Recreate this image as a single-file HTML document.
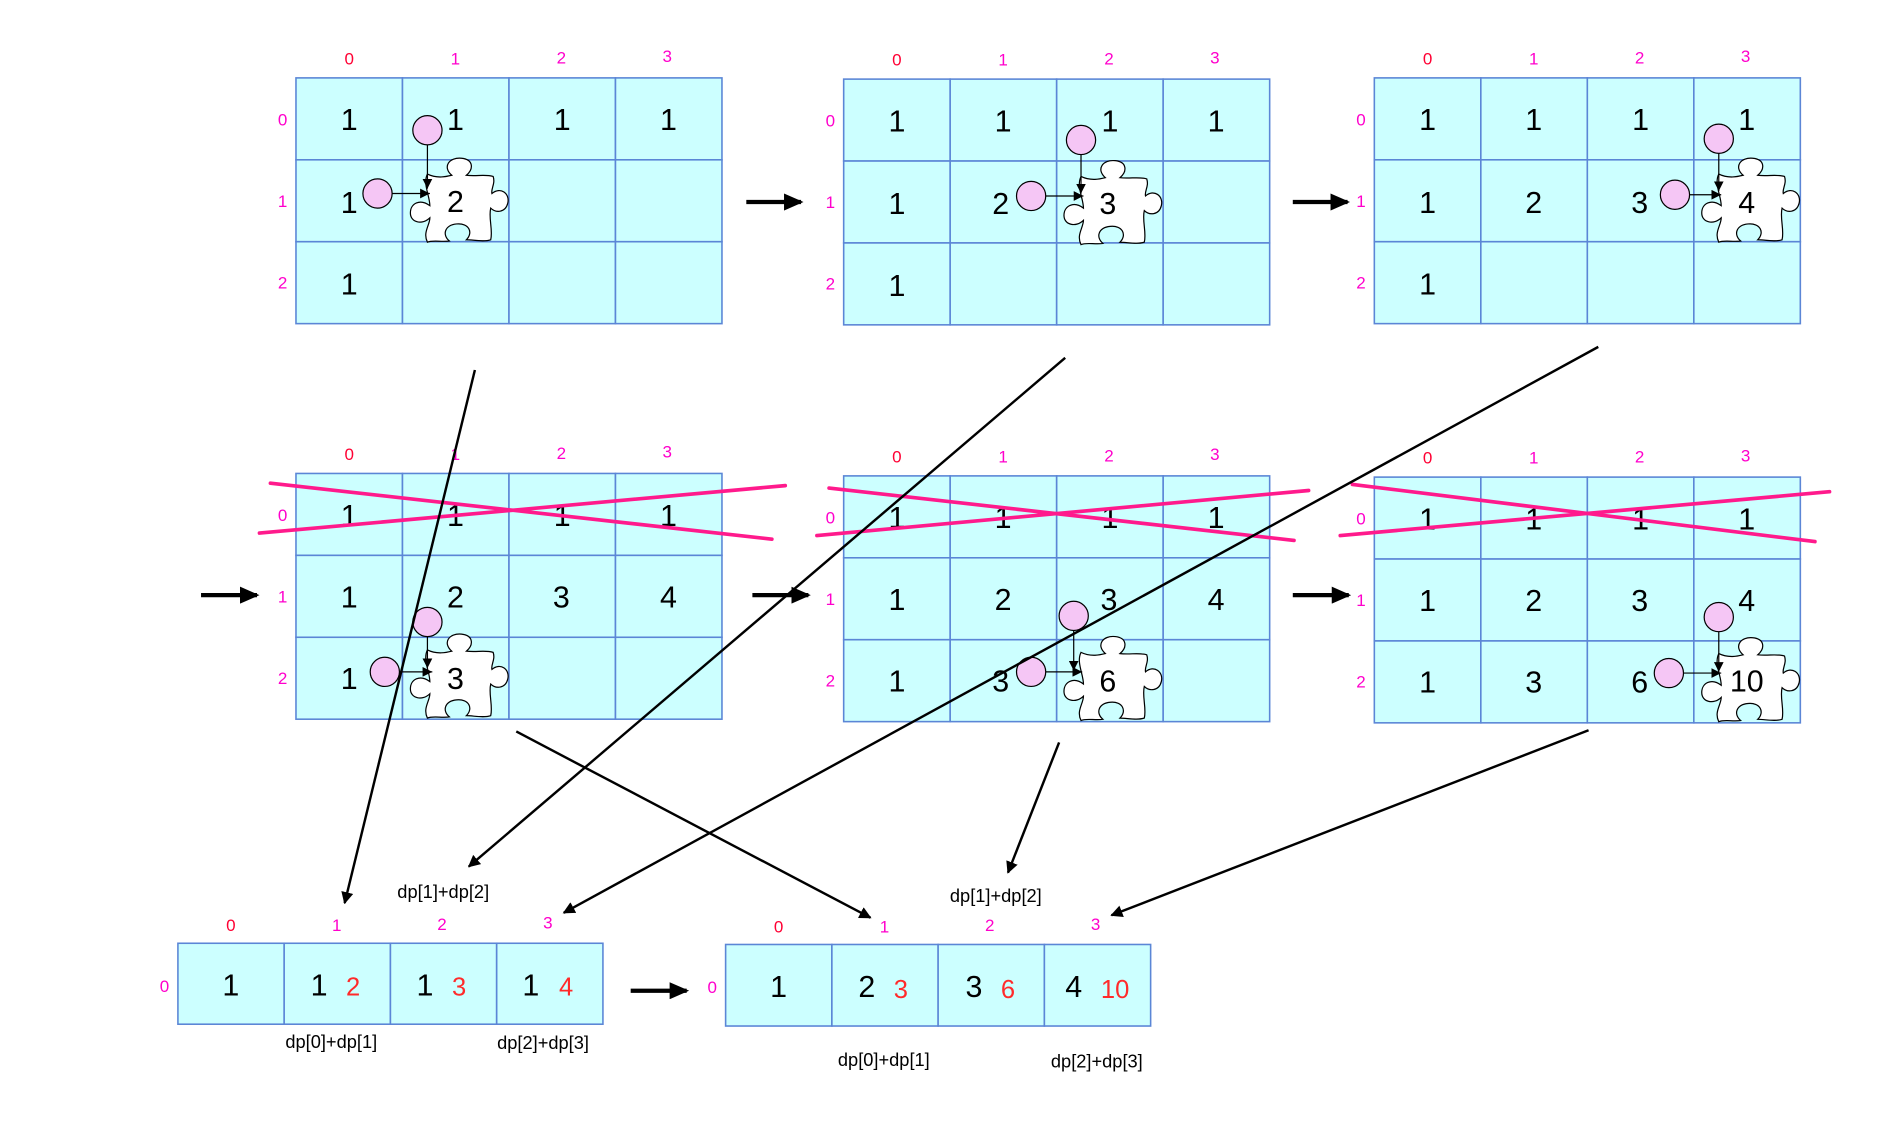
<!DOCTYPE html>
<html><head><meta charset="utf-8"><style>
html,body{margin:0;padding:0;background:#fff;}
svg{display:block;}
text{font-family:"Liberation Sans",sans-serif;}
.n{font-size:25px;fill:#000;text-anchor:middle;}
.r{font-size:25px;fill:#ff2a2a;text-anchor:middle;}
.cl{font-size:14px;fill:#ff00cc;text-anchor:middle;}
.c0{font-size:14px;fill:#ff0033;text-anchor:middle;}
.dp{font-size:15px;fill:#000;text-anchor:middle;}
.cell{fill:#ccffff;stroke:#5b86d6;stroke-width:1.3;}
.circ{fill:#f5c6f5;stroke:#000;stroke-width:1;}
.pz{fill:#fff;stroke:#000;stroke-width:1;}
.thin{stroke:#000;stroke-width:1;fill:none;}
.big{stroke:#000;stroke-width:3.5;}
.long{stroke:#000;stroke-width:2;}
.x{stroke:#ff1a8c;stroke-width:3;stroke-linecap:round;}
</style></head><body>
<svg width="1904" height="1138" viewBox="0 0 1564 935" xmlns="http://www.w3.org/2000/svg">
<defs>
<marker id="ah" markerWidth="10" markerHeight="10" refX="9" refY="5" orient="auto" markerUnits="userSpaceOnUse"><path d="M0,0 L10,5 L0,10 Z" fill="#000"/></marker>
<marker id="ahs" markerWidth="8" markerHeight="8" refX="8" refY="4" orient="auto" markerUnits="userSpaceOnUse"><path d="M0,0 L8,4 L0,8 Z" fill="#000"/></marker>
<marker id="ahb" markerWidth="16" markerHeight="14" refX="14" refY="7" orient="auto" markerUnits="userSpaceOnUse"><path d="M0,0 L16,7 L0,14 Z" fill="#000"/></marker>
<path id="puz" class="pz" d="M-26,-22 C-18,-18 -10,-20 -6,-21 C-14,-28 -8,-36 2,-35 C12,-34 12,-26 6,-21 C14,-20 22,-22 28,-20 C30,-14 26,-10 27,-6 C34,-12 42,-6 40,2 C38,10 30,10 26,6 C24,14 28,24 26,32 C20,34 12,32 6,32 C12,26 8,18 -2,19 C-12,20 -14,28 -8,33 C-14,34 -22,32 -26,34 C-30,26 -24,20 -24,14 C-30,20 -40,18 -40,10 C-40,2 -32,-2 -24,4 C-24,-4 -30,-14 -26,-22 Z"/>
<g id="grid">
<rect class="cell" x="0" y="0" width="87.5" height="67.3"/><rect class="cell" x="87.5" y="0" width="87.5" height="67.3"/><rect class="cell" x="175" y="0" width="87.5" height="67.3"/><rect class="cell" x="262.5" y="0" width="87.5" height="67.3"/>
<rect class="cell" x="0" y="67.3" width="87.5" height="67.3"/><rect class="cell" x="87.5" y="67.3" width="87.5" height="67.3"/><rect class="cell" x="175" y="67.3" width="87.5" height="67.3"/><rect class="cell" x="262.5" y="67.3" width="87.5" height="67.3"/>
<rect class="cell" x="0" y="134.6" width="87.5" height="67.3"/><rect class="cell" x="87.5" y="134.6" width="87.5" height="67.3"/><rect class="cell" x="175" y="134.6" width="87.5" height="67.3"/><rect class="cell" x="262.5" y="134.6" width="87.5" height="67.3"/>
</g>
</defs>

<!-- Grid 1 -->
<g transform="translate(243,64)">
<use href="#grid"/>
<text class="c0" x="43.75" y="-11">0</text><text class="cl" x="131" y="-11">1</text><text class="cl" x="218" y="-12">2</text><text class="cl" x="305" y="-13">3</text>
<text class="cl" x="-11" y="39">0</text><text class="cl" x="-11" y="106">1</text><text class="cl" x="-11" y="173">2</text>
<text class="n" x="43.75" y="43">1</text><text class="n" x="131" y="43">1</text><text class="n" x="218.75" y="43">1</text><text class="n" x="306" y="43">1</text>
<text class="n" x="43.75" y="111">1</text><text class="n" x="43.75" y="178">1</text>
<use href="#puz" transform="translate(134,101)"/><text class="n" x="131" y="110">2</text>
<line class="thin" x1="108" y1="54" x2="108" y2="91" marker-end="url(#ahs)"/>
<line class="thin" x1="78" y1="95" x2="110" y2="95" marker-end="url(#ahs)"/>
<circle class="circ" cx="108" cy="43" r="12"/><circle class="circ" cx="67" cy="95" r="12"/>
</g>

<!-- Grid 2 -->
<g transform="translate(693,65)">
<use href="#grid"/>
<text class="c0" x="43.75" y="-11">0</text><text class="cl" x="131" y="-11">1</text><text class="cl" x="218" y="-12">2</text><text class="cl" x="305" y="-13">3</text>
<text class="cl" x="-11" y="39">0</text><text class="cl" x="-11" y="106">1</text><text class="cl" x="-11" y="173">2</text>
<text class="n" x="43.75" y="43">1</text><text class="n" x="131" y="43">1</text><text class="n" x="218.75" y="43">1</text><text class="n" x="306" y="43">1</text>
<text class="n" x="43.75" y="111">1</text><text class="n" x="129" y="111">2</text><text class="n" x="43.75" y="178">1</text>
<use href="#puz" transform="translate(221,102)"/><text class="n" x="217" y="111">3</text>
<line class="thin" x1="195" y1="60" x2="195" y2="94" marker-end="url(#ahs)"/>
<line class="thin" x1="166" y1="96" x2="197" y2="96" marker-end="url(#ahs)"/>
<circle class="circ" cx="195" cy="50" r="12"/><circle class="circ" cx="154" cy="96" r="12"/>
</g>

<!-- Grid 3 -->
<g transform="translate(1129,64)">
<use href="#grid"/>
<text class="c0" x="43.75" y="-11">0</text><text class="cl" x="131" y="-11">1</text><text class="cl" x="218" y="-12">2</text><text class="cl" x="305" y="-13">3</text>
<text class="cl" x="-11" y="39">0</text><text class="cl" x="-11" y="106">1</text><text class="cl" x="-11" y="173">2</text>
<text class="n" x="43.75" y="43">1</text><text class="n" x="131" y="43">1</text><text class="n" x="218.75" y="43">1</text><text class="n" x="306" y="43">1</text>
<text class="n" x="43.75" y="111">1</text><text class="n" x="131" y="111">2</text><text class="n" x="218" y="111">3</text><text class="n" x="43.75" y="178">1</text>
<use href="#puz" transform="translate(309,101)"/><text class="n" x="306" y="111">4</text>
<line class="thin" x1="283" y1="60" x2="283" y2="93" marker-end="url(#ahs)"/>
<line class="thin" x1="259" y1="96" x2="285" y2="96" marker-end="url(#ahs)"/>
<circle class="circ" cx="283" cy="50" r="12"/><circle class="circ" cx="247" cy="96" r="12"/>
</g>

<!-- Grid 4 -->
<g transform="translate(243,389)">
<use href="#grid"/>
<text class="c0" x="43.75" y="-11">0</text><text class="cl" x="131" y="-11">1</text><text class="cl" x="218" y="-12">2</text><text class="cl" x="305" y="-13">3</text>
<text class="cl" x="-11" y="39">0</text><text class="cl" x="-11" y="106">1</text><text class="cl" x="-11" y="173">2</text>
<text class="n" x="43.75" y="43">1</text><text class="n" x="131" y="43">1</text><text class="n" x="218.75" y="43">1</text><text class="n" x="306" y="43">1</text>
<text class="n" x="43.75" y="110">1</text><text class="n" x="131" y="110">2</text><text class="n" x="218" y="110">3</text><text class="n" x="306" y="110">4</text>
<text class="n" x="43.75" y="177">1</text>
<use href="#puz" transform="translate(134,167)"/><text class="n" x="131" y="177">3</text>
<line class="thin" x1="108" y1="132" x2="108" y2="160" marker-end="url(#ahs)"/>
<line class="thin" x1="84" y1="163" x2="112" y2="163" marker-end="url(#ahs)"/>
<circle class="circ" cx="108" cy="122" r="12"/><circle class="circ" cx="73" cy="163" r="12"/>
</g>

<!-- Grid 5 -->
<g transform="translate(693,391)">
<use href="#grid"/>
<text class="c0" x="43.75" y="-11">0</text><text class="cl" x="131" y="-11">1</text><text class="cl" x="218" y="-12">2</text><text class="cl" x="305" y="-13">3</text>
<text class="cl" x="-11" y="39">0</text><text class="cl" x="-11" y="106">1</text><text class="cl" x="-11" y="173">2</text>
<text class="n" x="43.75" y="43">1</text><text class="n" x="131" y="43">1</text><text class="n" x="218.75" y="43">1</text><text class="n" x="306" y="43">1</text>
<text class="n" x="43.75" y="110">1</text><text class="n" x="131" y="110">2</text><text class="n" x="218" y="110">3</text><text class="n" x="306" y="110">4</text>
<text class="n" x="43.75" y="177">1</text><text class="n" x="129" y="177">3</text>
<use href="#puz" transform="translate(221,167)"/><text class="n" x="217" y="177">6</text>
<line class="thin" x1="189" y1="127" x2="189" y2="160" marker-end="url(#ahs)"/>
<line class="thin" x1="166" y1="161" x2="196" y2="161" marker-end="url(#ahs)"/>
<circle class="circ" cx="189" cy="115" r="12"/><circle class="circ" cx="154" cy="161" r="12"/>
</g>

<!-- Grid 6 -->
<g transform="translate(1129,392)">
<use href="#grid"/>
<text class="c0" x="43.75" y="-11">0</text><text class="cl" x="131" y="-11">1</text><text class="cl" x="218" y="-12">2</text><text class="cl" x="305" y="-13">3</text>
<text class="cl" x="-11" y="39">0</text><text class="cl" x="-11" y="106">1</text><text class="cl" x="-11" y="173">2</text>
<text class="n" x="43.75" y="43">1</text><text class="n" x="131" y="43">1</text><text class="n" x="218.75" y="43">1</text><text class="n" x="306" y="43">1</text>
<text class="n" x="43.75" y="110">1</text><text class="n" x="131" y="110">2</text><text class="n" x="218" y="110">3</text><text class="n" x="306" y="110">4</text>
<text class="n" x="43.75" y="177">1</text><text class="n" x="131" y="177">3</text><text class="n" x="218" y="177">6</text>
<use href="#puz" transform="translate(309,167)"/><text class="n" x="306" y="176">10</text>
<line class="thin" x1="283" y1="126" x2="283" y2="160" marker-end="url(#ahs)"/>
<line class="thin" x1="254" y1="161" x2="285" y2="161" marker-end="url(#ahs)"/>
<circle class="circ" cx="283" cy="115" r="12"/><circle class="circ" cx="242" cy="161" r="12"/>
</g>

<!-- cross-out lines -->
<line class="x" x1="222" y1="397" x2="634" y2="443"/><line class="x" x1="213" y1="438" x2="645" y2="399"/>
<line class="x" x1="681" y1="401" x2="1063" y2="444"/><line class="x" x1="671" y1="440" x2="1075" y2="403"/>
<line class="x" x1="1111" y1="398" x2="1491" y2="445"/><line class="x" x1="1101" y1="440" x2="1503" y2="404"/>

<!-- Bottom 1 -->
<g transform="translate(146,775)">
<rect class="cell" x="0" y="0" width="87.3" height="66.5"/><rect class="cell" x="87.3" y="0" width="87.3" height="66.5"/><rect class="cell" x="174.6" y="0" width="87.3" height="66.5"/><rect class="cell" x="261.9" y="0" width="87.3" height="66.5"/>
<text class="c0" x="43.5" y="-10">0</text><text class="cl" x="130.5" y="-10">1</text><text class="cl" x="217" y="-11">2</text><text class="cl" x="304" y="-12">3</text>
<text class="cl" x="-11" y="40">0</text>
<text class="n" x="43.5" y="43">1</text>
<text class="n" x="116" y="43">1</text><text class="r" x="144" y="43" style="font-size:21px">2</text>
<text class="n" x="203" y="43">1</text><text class="r" x="231" y="43" style="font-size:21px">3</text>
<text class="n" x="290" y="43">1</text><text class="r" x="319" y="43" style="font-size:21px">4</text>
</g>
<!-- Bottom 2 -->
<g transform="translate(596,776)">
<rect class="cell" x="0" y="0" width="87.3" height="67"/><rect class="cell" x="87.3" y="0" width="87.3" height="67"/><rect class="cell" x="174.6" y="0" width="87.3" height="67"/><rect class="cell" x="261.9" y="0" width="87.3" height="67"/>
<text class="c0" x="43.5" y="-10">0</text><text class="cl" x="130.5" y="-10">1</text><text class="cl" x="217" y="-11">2</text><text class="cl" x="304" y="-12">3</text>
<text class="cl" x="-11" y="40">0</text>
<text class="n" x="43.5" y="43">1</text>
<text class="n" x="116" y="43">2</text><text class="r" x="144" y="44" style="font-size:21px">3</text>
<text class="n" x="204" y="43">3</text><text class="r" x="232" y="44" style="font-size:21px">6</text>
<text class="n" x="286" y="43">4</text><text class="r" x="320" y="44" style="font-size:21px">10</text>
</g>

<!-- dp labels -->
<text class="dp" x="364" y="738">dp[1]+dp[2]</text>
<text class="dp" x="818" y="741">dp[1]+dp[2]</text>
<text class="dp" x="272" y="861">dp[0]+dp[1]</text>
<text class="dp" x="446" y="862">dp[2]+dp[3]</text>
<text class="dp" x="726" y="876">dp[0]+dp[1]</text>
<text class="dp" x="901" y="877">dp[2]+dp[3]</text>

<!-- thick short arrows -->
<line class="big" x1="613" y1="166" x2="658" y2="166" marker-end="url(#ahb)"/>
<line class="big" x1="1062" y1="166" x2="1107" y2="166" marker-end="url(#ahb)"/>
<line class="big" x1="165" y1="489" x2="211" y2="489" marker-end="url(#ahb)"/>
<line class="big" x1="618" y1="489" x2="664" y2="489" marker-end="url(#ahb)"/>
<line class="big" x1="1062" y1="489" x2="1108" y2="489" marker-end="url(#ahb)"/>
<line class="big" x1="518" y1="814" x2="564" y2="814" marker-end="url(#ahb)"/>

<!-- long arrows -->
<line class="long" x1="390" y1="304" x2="283" y2="742" marker-end="url(#ah)"/>
<line class="long" x1="875" y1="294" x2="385" y2="712" marker-end="url(#ah)"/>
<line class="long" x1="1313" y1="285" x2="463" y2="750" marker-end="url(#ah)"/>
<line class="long" x1="424" y1="601" x2="715" y2="754" marker-end="url(#ah)"/>
<line class="long" x1="870" y1="610" x2="828" y2="717" marker-end="url(#ah)"/>
<line class="long" x1="1305" y1="600" x2="913" y2="752" marker-end="url(#ah)"/>
</svg>
</body></html>
